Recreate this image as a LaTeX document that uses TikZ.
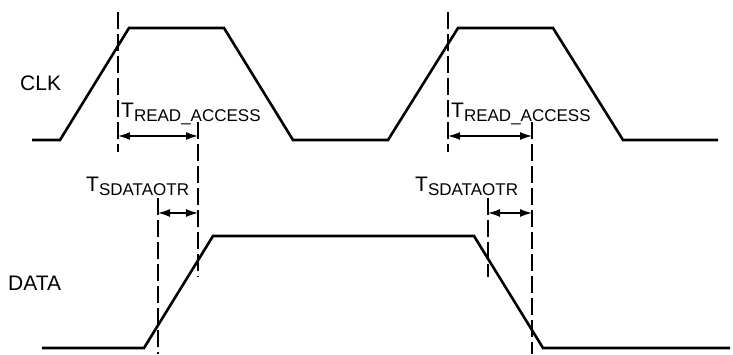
\documentclass[tikz,border=0pt]{standalone}
\usepackage{fontspec}
\setmainfont{Liberation Sans}
\usetikzlibrary{arrows.meta}
\newcommand{\tsub}[1]{T\raisebox{-4pt}{\fontsize{17}{17}\selectfont #1}}
\tikzset{
  sig/.style={line width=2.6pt, line join=miter},
  guide/.style={line width=1.3pt, dash pattern=on 17pt off 5pt},
  meas/.style={line width=1.3pt, {Latex[length=12pt,width=8pt]}-{Latex[length=12pt,width=8pt]}},
  lbl/.style={inner sep=0pt, font=\fontsize{21}{21}\selectfont, anchor=base west}
}
\begin{document}
\begin{tikzpicture}[x=1pt,y=-1pt]
\useasboundingbox (0,0) rectangle (733,354);
% CLK waveform
\draw[sig] (32,140) -- (60,140) -- (129,28) -- (224,28) -- (293,140) -- (388,140) -- (458,28) -- (553,28) -- (623,140) -- (718,140);
% DATA waveform
\draw[sig] (42,348) -- (144,348) -- (213,236) -- (474,236) -- (543,348) -- (730,348);
% guide lines
\coordinate (r1a) at (118,136); \coordinate (r1b) at (198,136);
\coordinate (r2a) at (448,136); \coordinate (r2b) at (532,136);
\coordinate (s1a) at (158,213); \coordinate (s1b) at (198,213);
\coordinate (s2a) at (488,213); \coordinate (s2b) at (532,213);
\draw[guide] (118,12) -- (118,152);
\draw[guide] (198,122) -- (198,277);
\draw[guide] (158,198) -- (158,354);
\draw[guide] (448,12) -- (448,152);
\draw[guide] (532,122) -- (532,354);
\draw[guide] (488,198) -- (488,277);
% measurement arrows
\draw[meas] (r1a) -- (r1b);
\draw[meas] (r2a) -- (r2b);
\draw[meas] (s1a) -- (s1b);
\draw[meas] (s2a) -- (s2b);
% labels
\node[lbl] (clk) at (20,90) {CLK};
\node[lbl] (data) at (8,290) {DATA};
\node[lbl] (ra1) at (121,117) {\tsub{READ\_ACCESS}};
\node[lbl] (ra2) at (451,117) {\tsub{READ\_ACCESS}};
\node[lbl] (sd1) at (86,191) {\tsub{SDATAOTR}};
\node[lbl] (sd2) at (415,191) {\tsub{SDATAOTR}};
\end{tikzpicture}
\end{document}
